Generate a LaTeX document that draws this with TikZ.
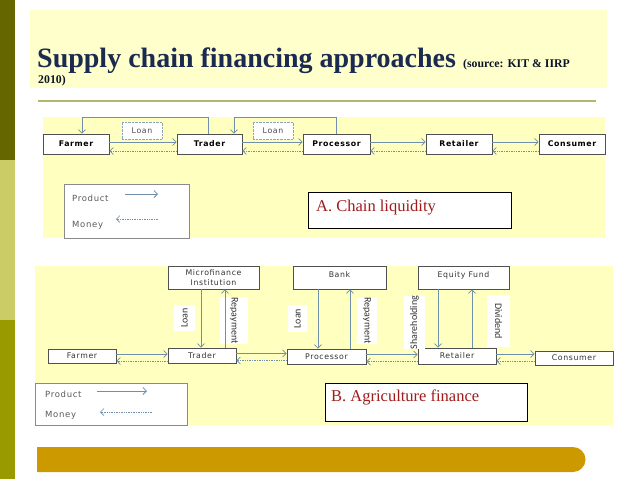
\documentclass[tikz,border=0pt]{standalone}
\usepackage{fontspec}
\setmainfont{Liberation Serif}
\newfontfamily\boxfont[LetterSpace=8]{DejaVu Sans}
\newfontfamily\rotfont{Carlito}
\usetikzlibrary{arrows.meta}
\definecolor{oliveA}{HTML}{666600}
\definecolor{oliveB}{HTML}{CCCC66}
\definecolor{oliveC}{HTML}{999900}
\definecolor{bandyel}{HTML}{FFFFCC}
\definecolor{panelyel}{HTML}{FFFFC0}
\definecolor{titleblue}{HTML}{1A2A50}
\definecolor{rulecol}{HTML}{B5B56E}
\definecolor{arrcol}{HTML}{6F8FAA}
\definecolor{labred}{HTML}{A01C1C}
\definecolor{barorange}{HTML}{CC9900}
\definecolor{boxline}{HTML}{505050}
\definecolor{legline}{HTML}{8A8A8A}
\tikzset{
  chainbox/.style={draw=boxline, fill=white, line width=0.7pt, inner sep=0pt,
    font=\boxfont\bfseries\fontsize{7.8}{8}\selectfont},
  chainboxB/.style={draw=boxline, fill=white, line width=0.7pt, inner sep=0pt,
    font=\boxfont\fontsize{7.8}{9}\selectfont, text=black!80},
  prod/.style={draw=arrcol, line width=0.8pt, -{Straight Barb[length=3.5pt,width=7pt]}},
  money/.style={draw=arrcol, line width=0.7pt, densely dotted, -{Straight Barb[length=3.5pt,width=7pt]}},
  loanbox/.style={draw=arrcol!80, densely dotted, fill=white, inner sep=0pt,
    minimum width=40pt, minimum height=17pt, font=\boxfont\fontsize{7.8}{9}\selectfont, text=black!70},
  rotlab/.style={fill=white, inner sep=0pt, font=\rotfont\fontsize{10}{11}\selectfont, text=black!80},
  legbox/.style={draw=legline, fill=white, line width=0.7pt},
  legtext/.style={anchor=west, inner sep=0pt, font=\boxfont\fontsize{8.5}{9}\selectfont, text=black!65},
  labbox/.style={draw=black, fill=white, line width=0.8pt},
  labtext/.style={anchor=west, inner sep=0pt, text=labred, font=\fontsize{16.5}{18}\selectfont},
}
\begin{document}
\begin{tikzpicture}[x=1pt,y=-1pt]
\useasboundingbox (0,0) rectangle (638,479);
\fill[white] (0,0) rectangle (638,479);
% left bar
\fill[oliveA] (0,0) rectangle (15,160);
\fill[oliveB] (0,160) rectangle (15,320);
\fill[oliveC] (0,320) rectangle (15,479);
% title band
\fill[bandyel] (30,10) rectangle (607,88);
\node[anchor=base west, inner sep=0pt, text=titleblue, font=\bfseries\fontsize{28}{30}\selectfont] (title) at (37,67) {Supply chain financing approaches};
\node[anchor=base west, inner sep=0pt, text=titleblue!50!black, font=\bfseries\fontsize{11.8}{12}\selectfont] (src) at (463,67) {(source: KIT \& IIRP};
\node[anchor=base west, inner sep=0pt, text=titleblue!50!black, font=\bfseries\fontsize{11.8}{12}\selectfont] (yr) at (38,83) {2010)};
\draw[rulecol, line width=2.2pt] (38,101) -- (596,101);
% ---------------- Panel A
\fill[panelyel] (43,117) rectangle (605,238);
\node[chainbox, minimum width=66pt, minimum height=20pt] (fA) at (76,144) {Farmer};
\node[chainbox, minimum width=65pt, minimum height=20pt] (tA) at (209.5,144) {Trader};
\node[chainbox, minimum width=67pt, minimum height=20pt] (pA) at (336.5,144) {Processor};
\node[chainbox, minimum width=66pt, minimum height=20pt] (rA) at (459,144) {Retailer};
\node[chainbox, minimum width=66pt, minimum height=20pt] (cA) at (572,144) {Consumer};
\node[loanbox] (l1) at (142,130.5) {Loan};
\node[loanbox] (l2) at (273,130.5) {Loan};
\foreach \a/\b in {fA/tA,tA/pA,pA/rA,rA/cA}{
  \draw[prod] ([yshift=2pt]\a.east) -- ([yshift=2pt]\a.east -| \b.west);
  \draw[money] ([yshift=-7pt]\a.east -| \b.west) -- ([yshift=-7pt]\a.east);
}
\draw[prod] ([xshift=-1.5pt]tA.north) -- ++(0,-16) -| ([xshift=6pt]fA.north);
\draw[prod] ([xshift=-0.5pt]pA.north) -- ++(0,-16) -| ([xshift=24.5pt]tA.north);
% legend A
\node[legbox, minimum width=125pt, minimum height=54pt, inner sep=0pt] (legA) at (126.5,211) {};
\node[legtext] (pA1) at (72,198) {Product};
\node[legtext] (mA1) at (72,225) {Money};
\coordinate (pa1s) at (125,194); \coordinate (pa1e) at (158,194);
\coordinate (ma1s) at (158,219); \coordinate (ma1e) at (116,219);
\draw[prod] (pa1s) -- (pa1e);
\draw[money] (ma1s) -- (ma1e);
\node[labbox, minimum width=203pt, minimum height=36pt, inner sep=0pt] (labA) at (409.5,210) {};
\node[labtext] (labAt) at (316,208) {A. Chain liquidity};
% ---------------- Panel B
\fill[panelyel] (35,266) rectangle (613,425);
\node[chainboxB, minimum width=91pt, minimum height=23pt, align=center, font=\boxfont\fontsize{7.8}{9.5}\selectfont] (mf) at (213.5,277.5) {Microfinance\\Institution};
\node[chainboxB, minimum width=93pt, minimum height=23pt] (bank) at (339.5,277.5) {\raisebox{5pt}{Bank}};
\node[chainboxB, minimum width=91pt, minimum height=23pt] (eq) at (463.5,277.5) {\raisebox{5pt}{Equity Fund}};
\node[chainboxB, minimum width=68pt, minimum height=14pt] (fB) at (82,356) {Farmer};
\node[chainboxB, minimum width=68pt, minimum height=15pt] (tB) at (202,355.5) {Trader};
\node[chainboxB, minimum width=79pt, minimum height=15pt] (pB) at (326.5,356.5) {Processor};
\node[chainboxB, minimum width=78pt, minimum height=16pt] (rB) at (457,356) {Retailer};
\node[chainboxB, minimum width=78pt, minimum height=14pt] (cB) at (574,358) {Consumer};
% rotated labels
\node[rotlab, minimum width=21pt, minimum height=26pt] (lo1) at (184.5,318) {\rotatebox{90}{Loan}};
\node[rotlab, minimum width=28pt, minimum height=45pt] (re1) at (234,320.5) {\rotatebox{-90}{Repayment}};
\node[rotlab, minimum width=19pt, minimum height=27pt] (lo2) at (297.5,318.5) {\rotatebox{90}{Loan}};
\node[rotlab, minimum width=20pt, minimum height=45pt] (re2) at (367,320.5) {\rotatebox{-90}{Repayment}};
\node[rotlab, minimum width=21pt, minimum height=51pt] (sh) at (414.5,322.5) {\rotatebox{90}{Shareholding}};
\node[rotlab, minimum width=23pt, minimum height=52pt] (dv) at (498.5,321) {\rotatebox{-90}{Dividend}};
% vertical arrows
\draw[prod] ([xshift=-12.5pt]mf.south) -- ([xshift=-12.5pt]mf.south |- tB.north);
\draw[prod] ([xshift=11.5pt]mf.south |- tB.north) -- ([xshift=11.5pt]mf.south);
\draw[prod] ([xshift=-21.5pt]bank.south) -- ([xshift=-21.5pt]bank.south |- pB.north);
\draw[prod] ([xshift=10.5pt]bank.south |- pB.north) -- ([xshift=10.5pt]bank.south);
\draw[prod] ([xshift=-25.5pt]eq.south) -- ([xshift=-25.5pt]eq.south |- rB.north);
\draw[prod] ([xshift=8.5pt]eq.south |- rB.north) -- ([xshift=8.5pt]eq.south);
% horizontal arrows
\foreach \a/\b in {fB/tB,tB/pB,pB/rB,rB/cB}{
  \draw[prod] ([yshift=2pt]\a.east) -- ([yshift=2pt]\a.east -| \b.west);
  \draw[money] ([yshift=-5pt]\a.east -| \b.west) -- ([yshift=-5pt]\a.east);
}
% legend B
\node[legbox, minimum width=152pt, minimum height=42pt, inner sep=0pt] (legB) at (111,404) {};
\node[legtext] (pB1) at (45,394) {Product};
\node[legtext] (mB1) at (45,415) {Money};
\coordinate (pb1s) at (97,391); \coordinate (pb1e) at (147,391);
\coordinate (mb1s) at (152,412); \coordinate (mb1e) at (100,412);
\draw[prod] (pb1s) -- (pb1e);
\draw[money] (mb1s) -- (mb1e);
\node[labbox, minimum width=202pt, minimum height=38pt, inner sep=0pt] (labB) at (426,402) {};
\node[labtext] (labBt) at (331,397) {B. Agriculture finance};
% bottom bar
\fill[barorange] (37,447) -- (573,447) arc[start angle=-90, end angle=90, radius=12.5] -- (37,472) -- cycle;
\end{tikzpicture}
\end{document}
